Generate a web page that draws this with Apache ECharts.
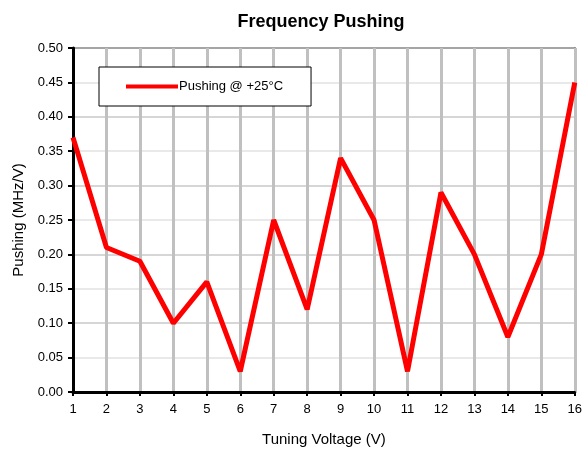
<!DOCTYPE html>
<html>
<head>
<meta charset="utf-8">
<script src="https://cdn.jsdelivr.net/npm/echarts@6/dist/echarts.min.js"></script>
<style>html,body{margin:0;padding:0;background:#fff}#c{width:585px;height:452px}</style>
</head>
<body>
<div id="c"></div>
<script>
var voltages = [1,2,3,4,5,6,7,8,9,10,11,12,13,14,15,16];
var pushing = [0.37,0.21,0.19,0.10,0.16,0.03,0.25,0.12,0.34,0.25,0.03,0.29,0.20,0.08,0.20,0.45];
var seriesName = 'Pushing @ +25°C';

var chart = echarts.init(document.getElementById('c'));
var font = 'Liberation Sans, Arial, sans-serif';
chart.setOption({
  animation: false,
  backgroundColor: '#fff',
  title: {
    text: 'Frequency Pushing',
    left: 316, textAlign: 'center', top: 8,
    textStyle: {fontFamily: font, fontSize: 18, fontWeight: 'bold', color: '#000'}
  },
  legend: {
    left: 99, top: 67,
    padding: [13, 28, 13, 27],
    borderColor: '#000', borderWidth: 1, borderRadius: 0,
    backgroundColor: '#fff',
    itemWidth: 52, itemHeight: 16, itemGap: 2,
    textStyle: {fontFamily: font, fontSize: 13, color: '#000', padding: [0,0,0,-4]},
    data: [{name: seriesName, icon: 'path://M0,6 L52,6 L52,10 L0,10 Z'}]
  },
  grid: {left: 73, right: 8, top: 48, bottom: 59, show: true, borderColor: '#000', borderWidth: 1.5},
  xAxis: {
    type: 'value', min: 1, max: 16, interval: 1,
    name: 'Tuning Voltage (V)', nameLocation: 'middle', nameGap: 40,
    nameTextStyle: {fontFamily: font, fontSize: 15, color: '#000'},
    axisLine: {show: true, onZero: false, lineStyle: {color: '#000', width: 3}},
    axisTick: {show: true, length: 4, lineStyle: {color: '#000', width: 2}},
    axisLabel: {fontFamily: font, fontSize: 13, color: '#000', margin: 11},
    splitLine: {show: true, lineStyle: {color: '#c0c0c0', width: 3}}
  },
  yAxis: {
    type: 'value', min: 0, max: 0.5, interval: 0.05,
    name: 'Pushing (MHz/V)', nameLocation: 'middle', nameGap: 47,
    nameTextStyle: {fontFamily: font, fontSize: 15, color: '#000'},
    axisLine: {show: true, lineStyle: {color: '#000', width: 3}},
    axisTick: {show: true, length: 5, lineStyle: {color: '#000', width: 2}},
    axisLabel: {fontFamily: font, fontSize: 13, color: '#000', margin: 10,
      formatter: function (v) { return v.toFixed(2); }},
    splitLine: {show: true, lineStyle: {color: ['#c8c8c8', '#e2e2e2'], width: 1.5}}
  },
  series: [{
    name: seriesName, type: 'line',
    data: voltages.map(function (v, i) { return [v, pushing[i]]; }),
    showSymbol: false, symbol: 'none',
    lineStyle: {color: '#ff0000', width: 5},
    itemStyle: {color: '#ff0000'}
  }]
});
</script>
</body>
</html>
